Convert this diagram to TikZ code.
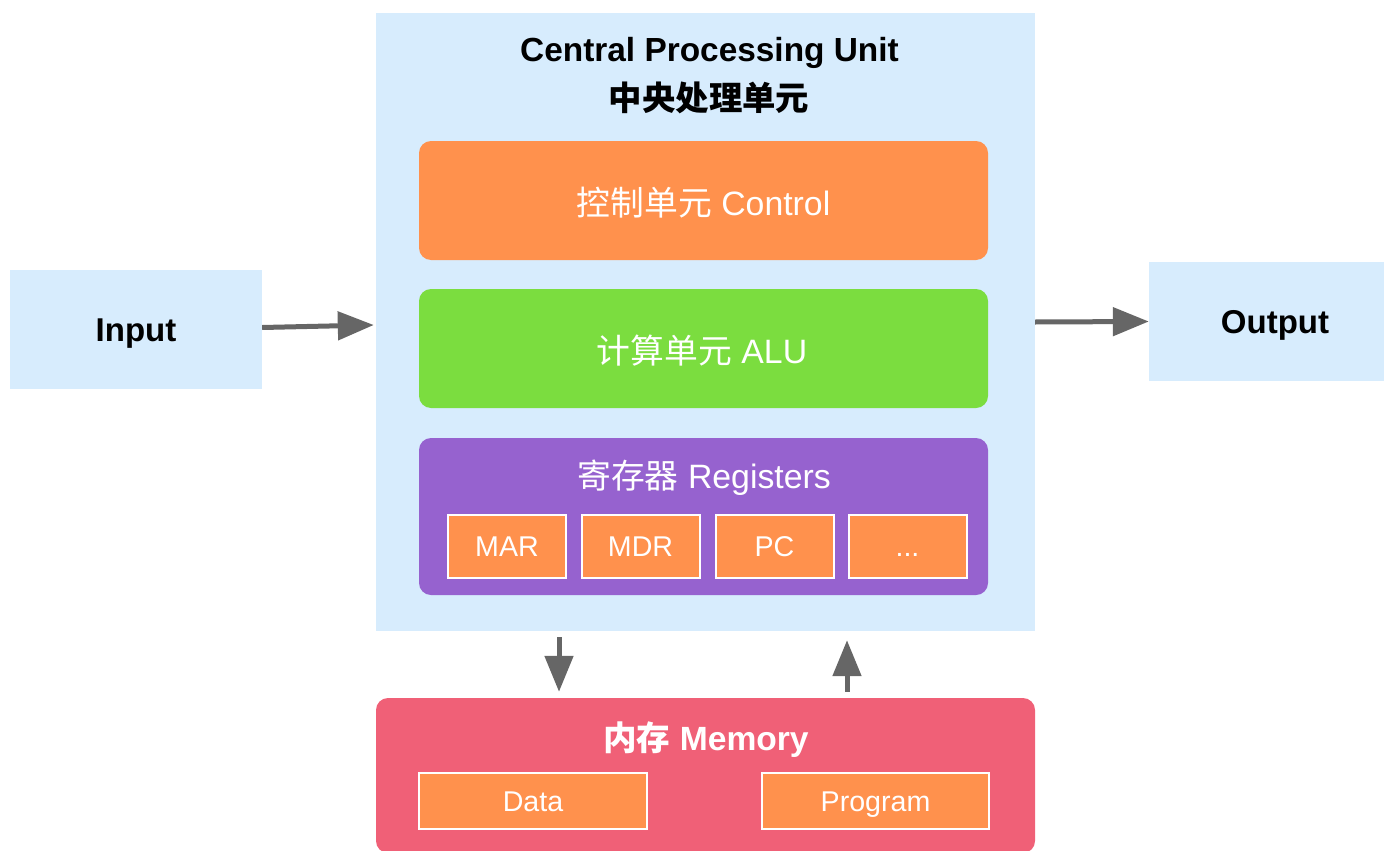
\documentclass[tikz,border=0pt]{standalone}
\usepackage{fontspec}
\setmainfont{Liberation Sans}
\newfontfamily\cjk{Noto Sans CJK SC}
\usetikzlibrary{arrows.meta}
\definecolor{lightblue}{HTML}{D7ECFD}
\definecolor{ctlorange}{HTML}{FF914D}
\definecolor{alugreen}{HTML}{7BDD3F}
\definecolor{regpurple}{HTML}{9662CF}
\definecolor{memred}{HTML}{F06077}
\definecolor{arrgray}{HTML}{666666}
\tikzset{
  plain/.style={rectangle, inner sep=0pt, fill=lightblue},
  io/.style={plain, minimum width=252pt, minimum height=119pt, font=\bfseries\fontsize{33}{40}\selectfont,
    text height=23.6pt, text depth=0pt},
  unitbox/.style={rectangle, rounded corners=12pt, inner sep=0pt},
  smallbox/.style={rectangle, inner sep=0pt, fill=ctlorange, draw=white, line width=2pt, text=white,
    font=\fontsize{28.6}{34}\selectfont, text height=20.5pt, text depth=0pt},
  label/.style={inner sep=0pt, text=white, font=\fontsize{33.8}{40}\selectfont, text height=24.2pt, text depth=0pt},
  title/.style={inner sep=0pt, font=\bfseries\fontsize{33.4}{40}\selectfont, text height=23.9pt, text depth=0pt},
  arr/.style={draw=arrgray, line width=5pt, -{Triangle[length=36pt,width=28pt]}},
}
\begin{document}
\begin{tikzpicture}[x=1pt,y=-1pt]
\useasboundingbox (0,0) rectangle (1384,851);
% input / output
\node[io] (input) at (136,329.5) {Input};
\node[io] (output) at (1275,321.5) {Output};
% CPU
\node[plain, minimum width=659pt, minimum height=618pt] (cpu) at (705.5,322) {};
\node[title] (cputitle) at (709.5,50) {Central Processing Unit};
\node[title] (cputitlecn) at (709,99) {\cjk\bfseries 中央处理单元};
\node[unitbox, fill=ctlorange, minimum width=569pt, minimum height=119pt] (ctl) at (703.5,200.5) {};
\node[label] (ctltxt) at (703.5,203) {{\cjk 控制单元} Control};
\node[unitbox, fill=alugreen, minimum width=569pt, minimum height=119pt] (alu) at (703.5,348.5) {};
\node[label] (alutxt) at (702,351) {{\cjk 计算单元} ALU};
\node[unitbox, fill=regpurple, minimum width=569pt, minimum height=157pt] (reg) at (703.5,516.5) {};
\node[label] (regtxt) at (704,476) {{\cjk 寄存器} Registers};
\node[smallbox, minimum width=118pt, minimum height=63pt] (mar) at (507,546.5) {MAR};
\node[smallbox, minimum width=118pt, minimum height=63pt] (mdr) at (640.5,546.5) {MDR};
\node[smallbox, minimum width=118pt, minimum height=63pt] (pc) at (774.5,546.5) {PC};
\node[smallbox, minimum width=118pt, minimum height=63pt] (etc) at (907.5,546.5) {...};
% Memory
\node[unitbox, fill=memred, minimum width=659pt, minimum height=155pt] (mem) at (705.5,775.5) {};
\node[label, font=\bfseries\fontsize{33.6}{40}\selectfont] (memtxt) at (706,738) {{\cjk\bfseries 内存} Memory};
\node[smallbox, minimum width=228pt, minimum height=56pt] (data) at (533,801) {Data};
\node[smallbox, minimum width=227pt, minimum height=56pt] (prog) at (875.5,801) {Program};
% arrows
\coordinate (dx) at (559,0);
\coordinate (ux) at (847,0);
\draw[arr] ([yshift=2pt]input.east) -- ([yshift=-3pt,xshift=-2pt]cpu.west);
\draw[arr] (cpu.east) -- (output.west);
\draw[arr, shorten <=6pt, shorten >=6pt] (dx |- cpu.south) -- (dx |- mem.north);
\draw[arr, shorten <=6pt, shorten >=9pt] (ux |- mem.north) -- (ux |- cpu.south);
\end{tikzpicture}
\end{document}
